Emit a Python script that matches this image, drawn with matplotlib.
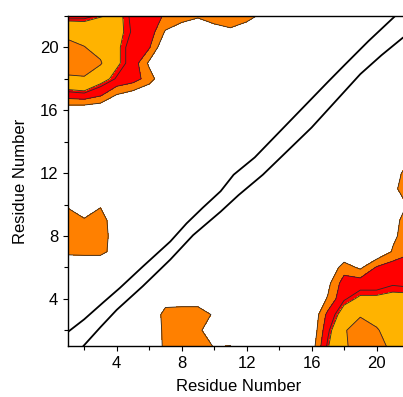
import numpy as np
import matplotlib
matplotlib.use("Agg")
import matplotlib.pyplot as plt
from matplotlib.ticker import MultipleLocator

plt.rcParams['font.family'] = ['Liberation Sans', 'DejaVu Sans']

residues = list(range(1, 23))

# contact-map values, one row per residue on the y axis (y = 1 .. 22), columns x = 1 .. 22
row_y01 = [0, 0, 0, 0, 0, 0, 1.25, 1.6, 1.5, 0.94, 1.03, 0, 0, 0, 0, 0.4, 3.2, 4.8, 5.6, 5.3, 4.8, 2.6]
row_y02 = [0, 0, 0, 0, 0, 0, 1.3, 1.7, 1.2, 0.4, 0, 0, 0, 0, 0, 0.1, 2.8, 4.9, 5.5, 5.1, 4.5, 2.7]
row_y03 = [0, 0, 0, 0, 0, 0, 1.4, 1.5, 1.4, 0.9, 0, 0, 0, 0, 0, 0, 2.3, 3.9, 4.9, 4.6, 4.5, 3.2]
row_y04 = [0, 0, 0, 0, 0, 0, 0.51, 0.5, 0.6, 0.3, 0, 0, 0, 0, 0, 0, 1.1, 2.9, 3.5, 3.5, 3.6, 3.6]
row_y05 = [0, 0, 0, 0, 0, 0, 0, 0, 0, 0, 0, 0, 0, 0, 0, 0, 0.7, 2.5, 2.6, 2.6, 2.9, 2.8]
row_y06 = [0, 0, 0, 0, 0, 0, 0, 0, 0, 0, 0, 0, 0, 0, 0, 0, 0, 1.5, 0.8, 2.1, 2.6, 2.4]
row_y07 = [1.25, 1.3, 1.3, 0.55, 0, 0, 0, 0, 0, 0, 0, 0, 0, 0, 0, 0, 0, 0, 0, 0, 1.1, 1.9]
row_y08 = [1.6, 1.7, 1.5, 0.45, 0, 0, 0, 0, 0, 0, 0, 0, 0, 0, 0, 0, 0, 0, 0, 0.2, 0.8, 1.5]
row_y09 = [1.5, 1.1, 1.4, 0.4, 0, 0, 0, 0, 0, 0, 0, 0, 0, 0, 0, 0, 0, 0, 0, 0.2, 0.7, 1.4]
row_y10 = [0.85, 0.3, 0.9, 0.2, 0, 0, 0, 0, 0, 0, 0, 0, 0, 0, 0, 0, 0, 0, 0, 0.2, 0.4, 1.1]
row_y11 = [1.03, 0, 0, 0, 0, 0, 0, 0, 0, 0, 0, 0, 0, 0, 0, 0, 0, 0, 0, 0.1, 0.7, 1.7]
row_y12 = [0, 0, 0, 0, 0, 0, 0, 0, 0, 0, 0, 0, 0, 0, 0, 0, 0, 0, 0, 0.1, 0.55, 1.4]
row_y13 = [0, 0, 0, 0, 0, 0, 0, 0, 0, 0, 0, 0, 0, 0, 0, 0, 0, 0, 0, 0, 0.2, 0.8]
row_y14 = [0, 0, 0, 0, 0, 0, 0, 0, 0, 0, 0, 0, 0, 0, 0, 0, 0, 0, 0, 0, 0, 0]
row_y15 = [0, 0, 0, 0, 0, 0, 0, 0, 0, 0, 0, 0, 0, 0, 0, 0, 0, 0, 0, 0, 0, 0]
row_y16 = [0.2, 0.1, 0, 0, 0, 0, 0, 0, 0, 0, 0, 0, 0, 0, 0, 0, 0, 0, 0, 0, 0, 0]
row_y17 = [2.6, 2.8, 2.2, 1.0, 0.5, 0, 0, 0, 0, 0, 0, 0, 0, 0, 0, 0, 0, 0, 0, 0, 0, 0]
row_y18 = [4.8, 4.9, 3.8, 2.9, 2.5, 1.5, 0, 0, 0, 0, 0, 0, 0, 0, 0, 0, 0, 0, 0, 0, 0, 0]
row_y19 = [5.6, 5.5, 5.15, 3.5, 2.6, 0.8, 0, 0, 0, 0, 0, 0, 0, 0, 0, 0, 0, 0, 0, 0, 0, 1.03]
row_y20 = [5.2, 5.05, 4.5, 3.5, 2.6, 2.1, 0, 0.2, 0.2, 0.2, 0.1, 0.1, 0, 0, 0, 0, 0, 0, 0, 0, 0, 0]
row_y21 = [4.8, 4.4, 4.5, 3.6, 2.9, 2.6, 0.9, 0.5, 0.3, 0.6, 0.85, 0.5, 0.2, 0, 0, 0, 0, 0, 0, 0, 0, 0]
row_y22 = [2.6, 2.7, 3.2, 3.6, 2.8, 2.4, 1.9, 1.35, 1.1, 1.4, 1.45, 1.3, 0.8, 0, 0, 0, 0, 0, 1.03, 0, 0, 0]

contact_rows = [row_y01, row_y02, row_y03, row_y04, row_y05, row_y06, row_y07, row_y08,
                row_y09, row_y10, row_y11, row_y12, row_y13, row_y14, row_y15, row_y16,
                row_y17, row_y18, row_y19, row_y20, row_y21, row_y22]

levels = [1, 2, 3, 3.3, 5, 7]
fill_colors = ['#FF8000', '#FF0000', '#FF0000', '#FFB300', '#FF8000']

# the two near-diagonal boundary lines
upper_x = [1, 2, 3.2, 4.2, 5.6, 7.3, 8.3, 9.3, 10.4, 11.2, 12.5, 14, 15.5, 17, 18.05, 19.5, 21.2]
upper_y = [1.9, 2.7, 3.8, 4.7, 6.05, 7.65, 8.8, 9.8, 10.85, 11.9, 13.0, 14.6, 16.2, 17.8, 18.9, 20.4, 22.05]
lower_x = [1.95, 3, 4, 5.6, 7.3, 8.7, 10.4, 11.5, 13, 14.5, 16, 17.5, 19, 20.3, 21.6, 22.2]
lower_y = [1, 2.2, 3.3, 4.8, 6.5, 8.05, 9.55, 10.6, 11.9, 13.4, 14.9, 16.6, 18.3, 19.5, 20.6, 21.0]

xticks = [4, 8, 12, 16, 20]
yticks = [4, 8, 12, 16, 20]

Z = np.array(contact_rows)
X, Y = np.meshgrid(residues, residues)

fig = plt.figure(figsize=(4.03, 3.97), dpi=100)
ax = fig.add_axes([68 / 403, 51 / 397, 341 / 403, 330 / 397])

ax.contourf(X, Y, Z, levels=levels, colors=fill_colors)
ax.contour(X, Y, Z, levels=levels[:-1], colors='#2a2a2a', linewidths=0.6)
ax.plot(upper_x, upper_y, color='black', lw=1.3)
ax.plot(lower_x, lower_y, color='black', lw=1.3)

ax.set_xlim(1, 22)
ax.set_ylim(1, 22)
ax.set_xticks(xticks)
ax.set_yticks(yticks)
ax.xaxis.set_minor_locator(MultipleLocator(2))
ax.yaxis.set_minor_locator(MultipleLocator(2))
ax.tick_params(which='both', direction='out', width=0.8, labelsize=12, top=False, right=False)
ax.tick_params(which='major', length=3.5)
ax.tick_params(which='minor', length=3)
for s in ['left', 'bottom', 'top']:
    ax.spines[s].set_linewidth(1.0)
ax.spines['right'].set_visible(False)

ax.set_xlabel('Residue Number', fontsize=12)
ax.set_ylabel('Residue Number', fontsize=12)
ax.xaxis.set_label_coords(0.5, -0.1)
ax.yaxis.set_label_coords(-0.118, 0.5)

fig.savefig('out.png', dpi=100)
